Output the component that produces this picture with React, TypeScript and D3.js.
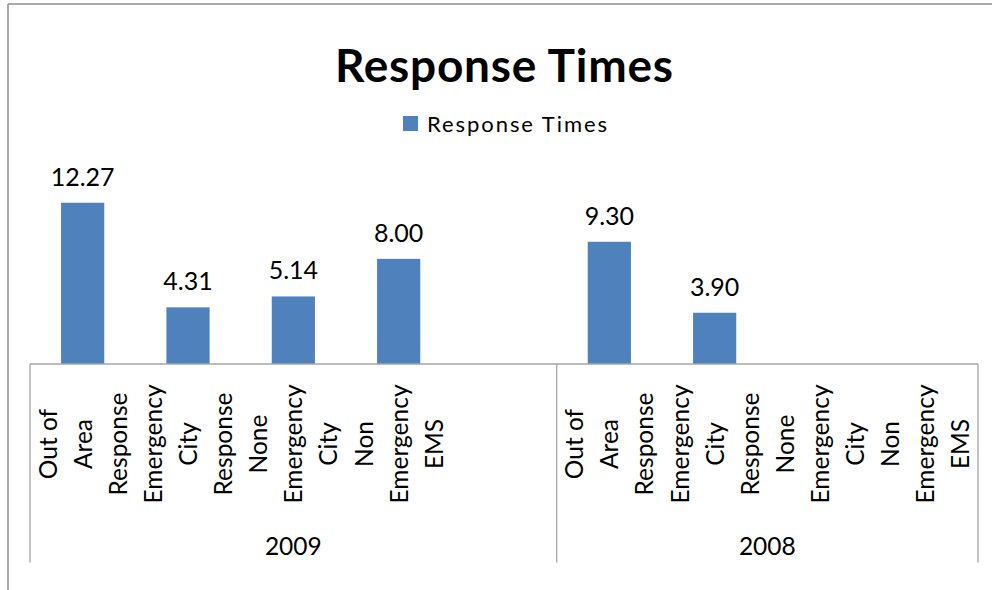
import React from "react";
import * as d3 from "d3";

const title = "Response Times";
const seriesName = "Response Times";
const years = ["2009", "2008"];
const categories2009: string[][] = [
  ["Out of", "Area", "Response"],
  ["Emergency", "City", "Response"],
  ["None", "Emergency", "City"],
  ["Non", "Emergency", "EMS"],
  [],
];
const categories2008: string[][] = [
  ["Out of", "Area", "Response"],
  ["Emergency", "City", "Response"],
  ["None", "Emergency", "City"],
  ["Non", "Emergency", "EMS"],
];
const values2009: (number | null)[] = [12.27, 4.31, 5.14, 8.0, null];
const values2008: (number | null)[] = [9.3, 3.9, null, null];

const W = 992;
const H = 590;
const FONT = "Lato, 'Open Sans', sans-serif";
const BAR = "#4f81bd";
const AXIS = "#a6a6a6";

export default function App() {
  const groups = [
    { year: years[0], cats: categories2009, vals: values2009 },
    { year: years[1], cats: categories2008, vals: values2008 },
  ];
  const slots: { key: string; lines: string[]; value: number | null; g: number }[] = [];
  groups.forEach((g, gi) =>
    g.cats.forEach((c, i) => slots.push({ key: `${gi}-${i}`, lines: c, value: g.vals[i], g: gi }))
  );

  const x = d3
    .scaleBand<string>()
    .domain(slots.map((s) => s.key))
    .range([30, 978])
    .paddingInner(0.59)
    .paddingOuter(0.295);
  const y = d3.scaleLinear().domain([0, 14]).range([364, 180]);
  const step = x.step();
  const x0 = 30;
  const baseY = y(0);

  const bounds: number[] = [x0];
  let acc = 0;
  groups.forEach((g) => {
    acc += g.cats.length;
    bounds.push(x0 + acc * step);
  });

  return (
    <svg
      width={W}
      height={H}
      style={{ position: "absolute", left: 0, top: 0, background: "#fff" }}
      fontFamily={FONT}
    >
      <rect x={0} y={0} width={W} height={H} fill="#fff" />
      <line x1={8} y1={4} x2={W} y2={4} stroke="#8c8c8c" strokeWidth={1.5} />
      <line x1={8} y1={4} x2={8} y2={H} stroke="#8c8c8c" strokeWidth={1.5} />

      <text
        x={335}
        y={82}
        fontSize={46}
        fontWeight="bold"
        fill="#000"
        textLength={338}
        lengthAdjust="spacing"
      >
        {title}
      </text>

      <rect x={403} y={116} width={15} height={15} fill={BAR} />
      <text x={427} y={132} fontSize={22} fill="#000" textLength={180} lengthAdjust="spacing">
        {seriesName}
      </text>

      {slots.map((s) =>
        s.value == null ? null : (
          <g key={s.key}>
            <rect
              x={x(s.key)!}
              y={y(s.value)}
              width={x.bandwidth()}
              height={baseY - y(s.value)}
              fill={BAR}
            />
            <text
              x={x(s.key)! + x.bandwidth() / 2}
              y={y(s.value) - 17}
              textAnchor="middle"
              fontSize={25}
              fill="#000"
            >
              {d3.format(".2f")(s.value)}
            </text>
          </g>
        )
      )}

      <line x1={x0} y1={baseY} x2={bounds[bounds.length - 1]} y2={baseY} stroke={AXIS} strokeWidth={1.3} />
      {bounds.map((b, i) => (
        <line key={i} x1={b} y1={baseY} x2={b} y2={562.5} stroke={AXIS} strokeWidth={1.3} />
      ))}

      {slots.map((s) => {
        const cx = x(s.key)! + x.bandwidth() / 2;
        return s.lines.map((ln, li) => {
          const bx = cx + (li - 1) * 35 + 9;
          return (
            <text
              key={s.key + li}
              transform={`translate(${bx},444) rotate(-90)`}
              textAnchor="middle"
              fontSize={24.5}
              fill="#000"
            >
              {ln}
            </text>
          );
        });
      })}

      {groups.map((g, gi) => (
        <text
          key={g.year}
          x={(bounds[gi] + bounds[gi + 1]) / 2}
          y={555}
          textAnchor="middle"
          fontSize={24.5}
          fill="#000"
        >
          {g.year}
        </text>
      ))}
    </svg>
  );
}
